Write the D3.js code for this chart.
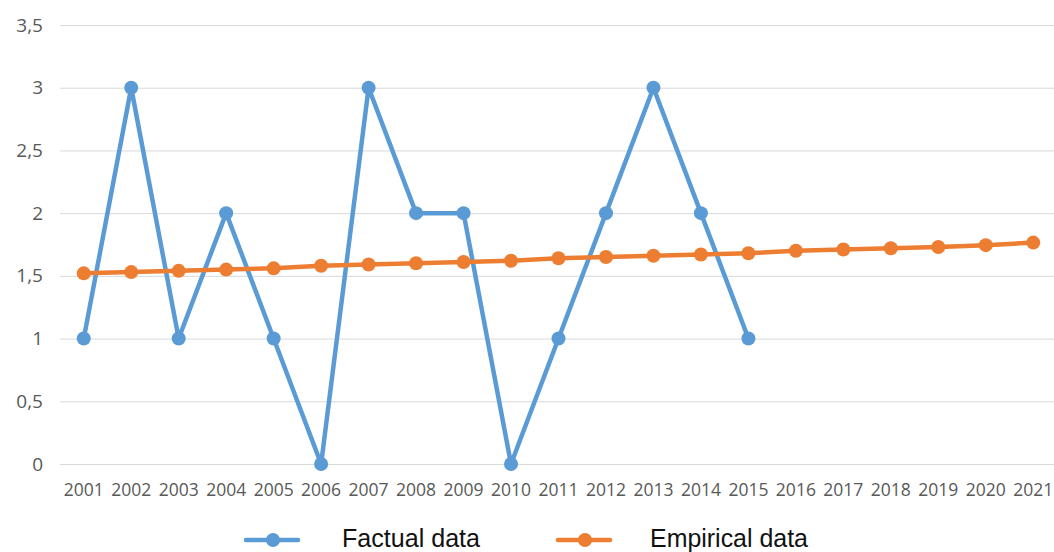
<!DOCTYPE html>
<html>
<head>
<meta charset="utf-8">
<script src="https://cdn.jsdelivr.net/npm/d3@7"></script>
<style>
  html, body { margin: 0; padding: 0; background: #fff; }
  svg { display: block; }
  .tick text { fill: #595959; font-family: "Open Sans", sans-serif; }
</style>
</head>
<body>
<div id="chart"></div>
<script>
// ---- data ----
const years = d3.range(2001, 2022).map(String);
const factual = [1, 3, 1, 2, 1, 0, 3, 2, 2, 0, 1, 2, 3, 2, 1];
const empirical = [1.52, 1.53, 1.54, 1.55, 1.56, 1.58, 1.59, 1.60, 1.61, 1.62, 1.64,
                   1.65, 1.66, 1.67, 1.68, 1.70, 1.71, 1.72, 1.73, 1.745, 1.765];
const yTicks = [0, 0.5, 1, 1.5, 2, 2.5, 3, 3.5];
const seriesNames = ["Factual data", "Empirical data"];
const colors = ["#5b9bd5", "#ed7d31"];

// ---- layout ----
const W = 1054, H = 552;
const svg = d3.select("#chart").append("svg").attr("width", W).attr("height", H);

const x = d3.scaleBand().domain(years).range([60, 1057]);
const y = d3.scaleLinear().domain([0, 3.5]).range([464, 25]);
const cx = d => x(d) + x.bandwidth() / 2;
const fmt = v => String(v).replace(".", ",");

// grid + y labels
svg.append("g")
  .attr("transform", "translate(60,0)")
  .call(d3.axisLeft(y).tickValues(yTicks).tickFormat(fmt).tickSize(-1000).tickPadding(17))
  .call(g => g.select(".domain").remove())
  .call(g => g.selectAll(".tick line").attr("stroke", "#d9d9d9"))
  .call(g => g.selectAll(".tick text").style("font-size", "19px"));

// x labels
svg.append("g")
  .attr("transform", "translate(0,464)")
  .call(d3.axisBottom(x).tickSize(0).tickPadding(20))
  .call(g => g.select(".domain").remove())
  .call(g => g.selectAll(".tick text").style("font-size", "17.5px"));

// lines
const line = d3.line().x(d => cx(d.k)).y(d => y(d.v));
const series = [
  factual.map((v, i) => ({ k: years[i], v })),
  empirical.map((v, i) => ({ k: years[i], v }))
];

series.forEach((data, i) => {
  svg.append("path").datum(data)
    .attr("fill", "none").attr("stroke", colors[i])
    .attr("stroke-width", 4.5).attr("stroke-linejoin", "round")
    .attr("d", line);
  svg.append("g").selectAll("circle").data(data).join("circle")
    .attr("cx", d => cx(d.k)).attr("cy", d => y(d.v))
    .attr("r", 7).attr("fill", colors[i]);
});

// legend
const legendX = [246, 558];
const legendTextX = [342, 650];
const legendW = [138, 158];
seriesNames.forEach((name, i) => {
  const g = svg.append("g");
  g.append("line")
    .attr("x1", legendX[i]).attr("x2", legendX[i] + 52)
    .attr("y1", 540).attr("y2", 540)
    .attr("stroke", colors[i]).attr("stroke-width", 4.5).attr("stroke-linecap", "round");
  g.append("circle").attr("cx", legendX[i] + 27).attr("cy", 540).attr("r", 7).attr("fill", colors[i]);
  g.append("text")
    .attr("x", legendTextX[i]).attr("y", 547)
    .attr("font-family", "Liberation Sans, Arial, sans-serif")
    .attr("font-size", 25).attr("fill", "#111")
    .attr("textLength", legendW[i]).attr("lengthAdjust", "spacingAndGlyphs")
    .text(name);
});
</script>
</body>
</html>
